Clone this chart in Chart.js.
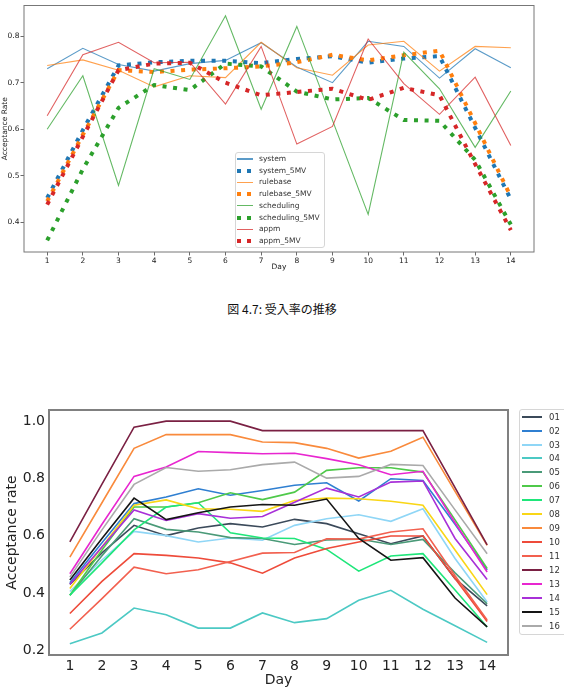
<!DOCTYPE html>
<html>
<head>
<meta charset="utf-8">
<script src="https://cdn.jsdelivr.net/npm/chart.js@4.4.1/dist/chart.umd.min.js"></script>
<style>
  body { margin: 0; background: #fff; }
  #page { position: relative; width: 564px; height: 687px; overflow: hidden; font-family: 'DejaVu Sans', sans-serif; }
  canvas { position: absolute; left: 0; }
  .legend { position: absolute; background: rgba(255,255,255,0.85); border: 1px solid #d6d6d6; border-radius: 3px; box-sizing: border-box; }
  .item { position: absolute; white-space: nowrap; color: #333; }
  .swatch { position: absolute; }
  #caption { position: absolute; left: 0; top: 300px; width: 564px; text-align: center; font: 12px 'Noto Sans CJK JP', sans-serif; color: #111; }
</style>
</head>
<body>
<div id="page">
  <canvas id="rateChart" width="564" height="280" style="top:0"></canvas>
  <div id="rateLegend" class="legend" style="left:235px;top:152px;width:90px;height:96px"></div>
  <div id="caption">図 4.7: 受入率の推移</div>
  <canvas id="groupChart" width="564" height="292" style="top:395px"></canvas>
  <div id="groupLegend" class="legend" style="left:519px;top:409px;width:60px;height:226px"></div>
</div>
<script>
// ---- data: top chart (figure 4.7) ----
const days = [1, 2, 3, 4, 5, 6, 7, 8, 9, 10, 11, 12, 13, 14];
const rateTicks = [0.4, 0.5, 0.6, 0.7, 0.8];

const system        = [0.730, 0.774, 0.739, 0.725, 0.741, 0.748, 0.786, 0.734, 0.700, 0.789, 0.778, 0.710, 0.773, 0.732];
const system5MV     = [0.452, 0.598, 0.737, 0.744, 0.747, 0.747, 0.742, 0.751, 0.757, 0.743, 0.752, 0.757, 0.603, 0.449];
const rulebase      = [0.737, 0.749, 0.727, 0.691, 0.715, 0.711, 0.787, 0.732, 0.716, 0.781, 0.789, 0.725, 0.778, 0.775];
const rulebase5MV   = [0.445, 0.588, 0.727, 0.723, 0.728, 0.731, 0.735, 0.744, 0.760, 0.748, 0.759, 0.769, 0.613, 0.455];
const scheduling    = [0.600, 0.715, 0.479, 0.730, 0.707, 0.844, 0.643, 0.821, 0.619, 0.417, 0.766, 0.687, 0.561, 0.682];
const scheduling5MV = [0.361, 0.514, 0.646, 0.695, 0.684, 0.741, 0.735, 0.681, 0.664, 0.667, 0.620, 0.618, 0.534, 0.395];
const appm          = [0.629, 0.760, 0.787, 0.743, 0.744, 0.654, 0.778, 0.568, 0.606, 0.794, 0.698, 0.632, 0.712, 0.565];
const appm5MV       = [0.438, 0.584, 0.727, 0.741, 0.743, 0.700, 0.673, 0.680, 0.687, 0.663, 0.689, 0.673, 0.525, 0.383];

// ---- data: bottom chart (16 groups) ----
const groupTicks = [0.2, 0.4, 0.6, 0.8, 1.0];
const groupNames = ['01', '02', '03', '04', '05', '06', '07', '08', '09', '10', '11', '12', '13', '14', '15', '16'];

const g01 = [0.430, 0.540, 0.636, 0.600, 0.627, 0.642, 0.630, 0.657, 0.642, 0.607, 0.572, 0.599, 0.450, 0.355];
const g02 = [0.435, 0.575, 0.712, 0.735, 0.764, 0.741, 0.758, 0.776, 0.785, 0.721, 0.799, 0.793, 0.640, 0.480];
const g03 = [0.405, 0.515, 0.615, 0.600, 0.578, 0.592, 0.584, 0.636, 0.659, 0.673, 0.650, 0.694, 0.520, 0.368];
const g04 = [0.222, 0.260, 0.347, 0.324, 0.277, 0.277, 0.330, 0.296, 0.310, 0.374, 0.409, 0.343, 0.285, 0.227];
const g05 = [0.392, 0.530, 0.659, 0.622, 0.613, 0.593, 0.590, 0.569, 0.585, 0.588, 0.569, 0.587, 0.470, 0.362];
const g06 = [0.392, 0.550, 0.700, 0.700, 0.715, 0.750, 0.726, 0.752, 0.828, 0.837, 0.837, 0.822, 0.655, 0.485];
const g07 = [0.392, 0.505, 0.620, 0.700, 0.715, 0.610, 0.592, 0.590, 0.552, 0.476, 0.529, 0.537, 0.410, 0.281];
const g08 = [0.415, 0.560, 0.706, 0.725, 0.694, 0.692, 0.685, 0.723, 0.731, 0.729, 0.720, 0.706, 0.550, 0.394];
const g09 = [0.525, 0.715, 0.905, 0.953, 0.953, 0.953, 0.927, 0.925, 0.905, 0.871, 0.895, 0.944, 0.755, 0.566];
const g10 = [0.328, 0.440, 0.537, 0.531, 0.522, 0.505, 0.469, 0.522, 0.555, 0.578, 0.599, 0.599, 0.450, 0.300];
const g11 = [0.273, 0.380, 0.490, 0.467, 0.481, 0.510, 0.539, 0.541, 0.589, 0.588, 0.613, 0.624, 0.460, 0.305];
const g12 = [0.578, 0.780, 0.979, 1.000, 1.000, 1.000, 0.967, 0.967, 0.967, 0.967, 0.967, 0.967, 0.768, 0.568];
const g13 = [0.467, 0.640, 0.807, 0.840, 0.894, 0.890, 0.886, 0.888, 0.869, 0.848, 0.813, 0.825, 0.645, 0.473];
const g14 = [0.430, 0.560, 0.690, 0.653, 0.677, 0.661, 0.667, 0.717, 0.766, 0.735, 0.787, 0.791, 0.590, 0.447];
const g15 = [0.445, 0.590, 0.731, 0.656, 0.680, 0.700, 0.709, 0.706, 0.728, 0.590, 0.514, 0.523, 0.382, 0.281];
const g16 = [0.455, 0.620, 0.779, 0.838, 0.825, 0.830, 0.848, 0.857, 0.801, 0.807, 0.849, 0.845, 0.690, 0.537];

// ---- styles ----
const groupColors = ['#3b4a5a', '#2f7fd1', '#8fd6f6', '#4cc9c4', '#4a9a78', '#4fc94a', '#1fe67a', '#f9d616',
                     '#f98a3c', '#ee4b3a', '#f2604f', '#7a2043', '#e826d0', '#a830d8', '#151515', '#aaaaaa'];
const tab = { blue: '#1f77b4', orange: '#ff7f0e', green: '#2ca02c', red: '#d62728' };
const FONT = 'DejaVu Sans';

const toPoints = vals => days.map((d, i) => ({ x: d, y: vals[i] }));

// full box around the plot area (matplotlib spines)
const framePlugin = {
  id: 'frame',
  afterDatasetsDraw(chart, args, opts) {
    const { ctx, chartArea: a } = chart;
    ctx.save();
    ctx.strokeStyle = opts.color;
    ctx.lineWidth = opts.width;
    ctx.strokeRect(a.left, a.top, a.right - a.left, a.bottom - a.top);
    ctx.restore();
  }
};

function solid(label, vals, color) {
  return { label, data: toPoints(vals), borderColor: color + 'bb', borderWidth: 1.1, pointRadius: 0, tension: 0, fill: false };
}
function dotted(label, vals, color) {
  return { label, data: toPoints(vals), borderColor: color, borderWidth: 4, borderDash: [4, 6.6],
           borderCapStyle: 'butt', pointRadius: 0, tension: 0, fill: false };
}

const rateSets = [
  solid('system', system, tab.blue),
  dotted('system_5MV', system5MV, tab.blue),
  solid('rulebase', rulebase, tab.orange),
  dotted('rulebase_5MV', rulebase5MV, tab.orange),
  solid('scheduling', scheduling, tab.green),
  dotted('scheduling_5MV', scheduling5MV, tab.green),
  solid('appm', appm, tab.red),
  dotted('appm_5MV', appm5MV, tab.red)
];
rateSets.forEach((d, i) => { d.order = rateSets.length - i; });

new Chart(document.getElementById('rateChart'), {
  type: 'line',
  data: { datasets: rateSets },
  plugins: [framePlugin],
  options: {
    responsive: false,
    animation: false,
    devicePixelRatio: 1,
    layout: { padding: { left: 0, right: 30, top: 3, bottom: 0 } },
    plugins: { legend: { display: false }, tooltip: { enabled: false }, frame: { color: '#777', width: 1 } },
    scales: {
      x: {
        type: 'linear', min: 0.35, max: 14.65,
        afterBuildTicks: s => { s.ticks = days.map(v => ({ value: v })); },
        afterFit: s => { s.height = 28; },
        border: { display: false },
        grid: { drawOnChartArea: false, drawTicks: true, tickLength: 3.5, color: '#444', tickWidth: 0.8 },
        ticks: { font: { family: FONT, size: 7.5 }, color: '#222', padding: 1, maxRotation: 0, autoSkip: false },
        title: { display: true, text: 'Day', color: '#222', font: { family: FONT, size: 7.5, lineHeight: 1 }, padding: { top: 0, bottom: 9 } }
      },
      y: {
        min: 0.336, max: 0.866,
        afterBuildTicks: s => { s.ticks = rateTicks.map(v => ({ value: v })); },
        afterFit: s => { s.width = 24; },
        border: { display: false },
        grid: { drawOnChartArea: false, drawTicks: true, tickLength: 3.5, color: '#444', tickWidth: 0.8 },
        ticks: { font: { family: FONT, size: 7.5 }, color: '#222', padding: 1, callback: v => v.toFixed(1) },
        title: { display: true, text: 'Acceptance Rate', color: '#222', font: { family: FONT, size: 7.5, lineHeight: 1 }, padding: { top: 1.5, bottom: 0 } }
      }
    }
  }
});

const groupLists = [g01, g02, g03, g04, g05, g06, g07, g08, g09, g10, g11, g12, g13, g14, g15, g16];
const groupSets = groupLists.map((vals, i) => ({
  label: groupNames[i], data: toPoints(vals), borderColor: groupColors[i], borderWidth: 1.6,
  pointRadius: 0, tension: 0, fill: false, order: groupLists.length - i
}));

new Chart(document.getElementById('groupChart'), {
  type: 'line',
  data: { datasets: groupSets },
  plugins: [framePlugin],
  options: {
    responsive: false,
    animation: false,
    devicePixelRatio: 1,
    layout: { padding: { left: 0, right: 56, top: 15, bottom: 0 } },
    plugins: { legend: { display: false }, tooltip: { enabled: false }, frame: { color: '#808080', width: 2 } },
    scales: {
      x: {
        type: 'linear', min: 0.35, max: 14.65,
        afterBuildTicks: s => { s.ticks = days.map(v => ({ value: v })); },
        afterFit: s => { s.height = 32; },
        border: { display: false },
        grid: { display: false, drawTicks: false },
        ticks: { font: { family: FONT, size: 14 }, color: '#222', padding: 3, maxRotation: 0, autoSkip: false },
        title: { display: true, text: 'Day', color: '#222', font: { family: FONT, size: 14, lineHeight: 1 }, padding: { top: 0, bottom: 0 } }
      },
      y: {
        min: 0.183, max: 1.039,
        afterBuildTicks: s => { s.ticks = groupTicks.map(v => ({ value: v })); },
        afterFit: s => { s.width = 49; },
        border: { display: false },
        grid: { display: false, drawTicks: false },
        ticks: { font: { family: FONT, size: 14 }, color: '#222', padding: 4, callback: v => v.toFixed(1) },
        title: { display: true, text: 'Acceptance rate', color: '#222', font: { family: FONT, size: 14, lineHeight: 1 }, padding: { top: 5, bottom: 0 } }
      }
    }
  }
});

// ---- HTML legends ----
function addItem(box, boxLeft, boxTop, cy, label, swatchLeft, swatchW, textLeft, fontSize, drawSwatch) {
  const sw = document.createElement('div');
  sw.className = 'swatch';
  sw.style.left = (swatchLeft - boxLeft - 1) + 'px';
  sw.style.width = swatchW + 'px';
  drawSwatch(sw, cy - boxTop - 1);
  box.appendChild(sw);
  const t = document.createElement('div');
  t.className = 'item';
  t.textContent = label;
  t.style.left = (textLeft - boxLeft - 1) + 'px';
  t.style.top = (cy - boxTop - 1 - 6) + 'px';
  t.style.height = '12px';
  t.style.lineHeight = '12px';
  t.style.fontSize = fontSize + 'px';
  box.appendChild(t);
}

const rateBox = document.getElementById('rateLegend');
rateSets.forEach((d, i) => {
  const cy = 159 + 11.72 * i;
  const isDot = !!d.borderDash;
  addItem(rateBox, 235, 152, cy, d.label, 237, 16, 259, 7.5, (sw, rel) => {
    if (isDot) {
      sw.style.top = (rel - 2) + 'px';
      sw.style.height = '4px';
      sw.style.background = `linear-gradient(to right, ${d.borderColor} 0 4px, transparent 4px 10px, ${d.borderColor} 10px 14px, transparent 14px)`;
    } else {
      sw.style.top = (rel - 0.6) + 'px';
      sw.style.height = '1.2px';
      sw.style.background = d.borderColor;
    }
  });
});

const groupBox = document.getElementById('groupLegend');
groupSets.forEach((d, i) => {
  const cy = 416.7 + 13.93 * i;
  addItem(groupBox, 519, 409, cy, d.label, 522, 20, 549, 8.5, (sw, rel) => {
    sw.style.top = (rel - 1) + 'px';
    sw.style.height = '2px';
    sw.style.background = d.borderColor;
  });
});
</script>
</body>
</html>
